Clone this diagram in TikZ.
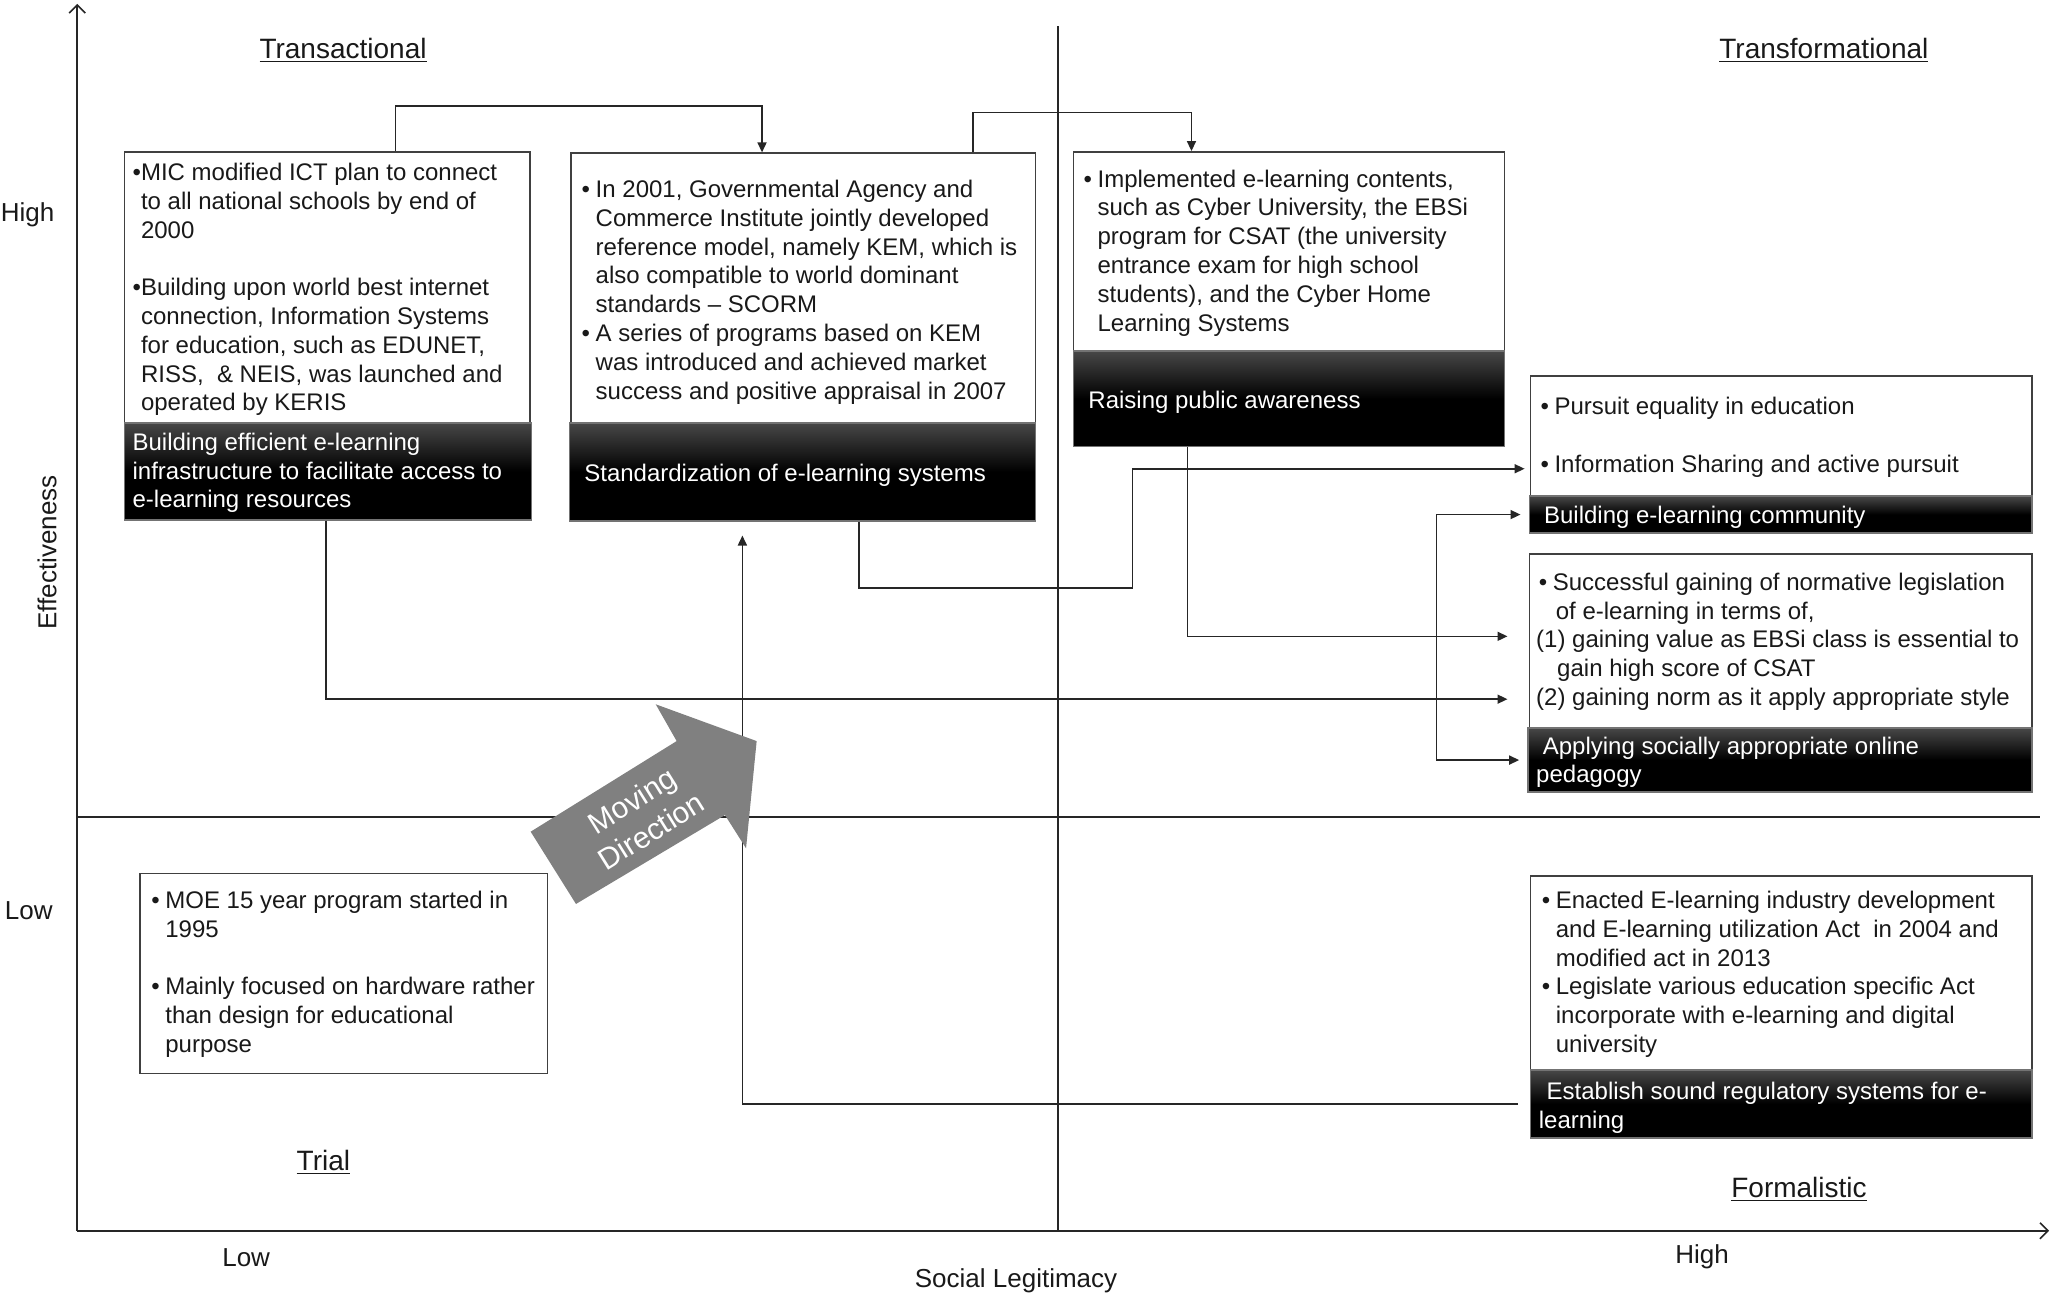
\documentclass[tikz,border=0pt]{standalone}
\usepackage{fontspec}
\setmainfont{Liberation Sans}
\usetikzlibrary{arrows.meta,fit}
\newcommand{\bi}{\makebox[7pt][l]{•}}
\newcommand{\hi}{\hspace*{7pt}}
\newcommand{\fst}{\rule{0pt}{10pt}}
\begin{document}
\begin{tikzpicture}[x=0.6547pt,y=-0.6547pt,
  wbox/.style={draw=black!75, fill=white, line width=0.8pt, inner sep=0pt},
  kbox/.style={draw=black!55, line width=0.8pt, inner sep=0pt, top color=black!72, bottom color=black, middle color=black},
  txt/.style={anchor=north west, inner sep=0pt, align=left, font=\fontsize{12}{14.4}\selectfont, text=black!90},
  wtxt/.style={txt, text=white},
  axlab/.style={inner sep=0pt, anchor=base, font=\fontsize{13}{15}\selectfont, text=black!90},
  quad/.style={inner sep=0pt, anchor=base, font=\fontsize{14}{16}\selectfont, text=black!90},
  conn/.style={draw=black!85, line width=0.8pt, -{Triangle[length=5pt,width=4.5pt]}},
  axisline/.style={draw=black!85, line width=0.8pt, -{Straight Barb[length=4pt,width=8pt]}},
  midline/.style={draw=black!85, line width=0.8pt}
]
\useasboundingbox (0,0) rectangle (1568,989.07);

% axes and quadrant lines
\draw[axisline] (59,940) -- (59,3);
\draw[axisline] (59,940) -- (1565,940);
\draw[midline] (808,20) -- (808,940);
\draw[midline] (59,624) -- (1558,624);

% quadrant titles
\node[quad] (qtl) at (262,44.6) {\underline{Transactional}};
\node[quad] (qtr) at (1393,44.6) {\underline{Transformational}};
\node[quad] (qbl) at (247,893.6) {\underline{Trial}};
\node[quad] (qbr) at (1374,914.6) {\underline{Formalistic}};

% axis labels
\node[axlab] (yh) at (21,169) {High};
\node[axlab] (yl) at (22,702) {Low};
\node[axlab] (xl) at (188,967) {Low};
\node[axlab] (xh) at (1300,965) {High};
\node[axlab] (xt) at (776,983) {Social Legitimacy};
\node[inner sep=0pt, font=\fontsize{13}{15}\selectfont, text=black!90, rotate=90] (yt) at (36,422) {Effectiveness};

% boxes
\node[wbox, fit={(95,116) (405,323)}] (w1) {};
\node[kbox, fit={(95,323) (406,397)}] (k1) {};
\node[wbox, fit={(436,117) (791,323)}] (w2) {};
\node[kbox, fit={(435,323) (791,398)}] (k2) {};
\node[wbox, fit={(820,116) (1149,268)}] (w3) {};
\node[kbox, fit={(820,268) (1149,341)}] (k3) {};
\node[wbox, fit={(1169,287) (1552,379)}] (w4) {};
\node[kbox, fit={(1168,379) (1552,407)}] (k4) {};
\node[wbox, fit={(1168,423) (1552,556)}] (w5) {};
\node[kbox, fit={(1167,556) (1552,605)}] (k5) {};
\node[wbox, fit={(107,667) (418,820)}] (w6) {};
\node[wbox, fit={(1169,669) (1552,817)}] (w7) {};
\node[kbox, fit={(1169,817) (1552,869)}] (k7) {};

% texts
\node[txt] (t1) at (101,122.3) {\fst•MIC modified ICT plan to connect\\
\phantom{•}to all national schools by end of\\
\phantom{•}2000\\[14.4pt]
•Building upon world best internet\\
\phantom{•}connection, Information Systems\\
\phantom{•}for education, such as EDUNET,\\
\phantom{•}RISS, \ \& NEIS, was launched and\\
\phantom{•}operated by KERIS};
\node[wtxt] (l1) at (101,328.3) {\fst Building efficient e-learning\\
infrastructure to facilitate access to\\
e-learning resources};

\node[txt] (t2) at (444,135.3) {\fst\bi In 2001, Governmental Agency and\\
\hi Commerce Institute jointly developed\\
\hi reference model, namely KEM, which is\\
\hi also compatible to world dominant\\
\hi standards – SCORM\\
\bi A series of programs based on KEM\\
\hi was introduced and achieved market\\
\hi success and positive appraisal in 2007};
\node[wtxt] (l2) at (446,352.3) {\fst Standardization of e-learning systems};

\node[txt] (t3) at (827.3,127.3) {\fst\bi Implemented e-learning contents,\\
\hi such as Cyber University, the EBSi\\
\hi program for CSAT (the university\\
\hi entrance exam for high school\\
\hi students), and the Cyber Home\\
\hi Learning Systems};
\node[wtxt] (l3) at (831,296.3) {\fst Raising public awareness};

\node[txt] (t4) at (1176.3,301.3) {\fst\bi Pursuit equality in education\\[14.4pt]
\bi Information Sharing and active pursuit};
\node[wtxt] (l4) at (1179,384.3) {\fst Building e-learning community};

\node[txt] (t5) at (1173,435.3) {\fst\hspace*{1.3pt}\bi Successful gaining of normative legislation\\
\hspace*{9.8pt}of e-learning in terms of,\\
(1) gaining value as EBSi class is essential to\\
\hspace*{10.5pt}gain high score of CSAT\\
(2) gaining norm as it apply appropriate style};
\node[wtxt] (l5) at (1173,560.3) {\fst\hspace*{3.3pt}Applying socially appropriate online\\
pedagogy};

\node[txt] (t6) at (115.3,678.3) {\fst\bi MOE 15 year program started in\\
\hi 1995\\[14.4pt]
\bi Mainly focused on hardware rather\\
\hi than design for educational\\
\hi purpose};

\node[txt] (t7) at (1177.3,678.3) {\fst\bi Enacted E-learning industry development\\
\hi and E-learning utilization Act \ in 2004 and\\
\hi modified act in 2013\\
\bi Legislate various education specific Act\\
\hi incorporate with e-learning and digital\\
\hi university};
\node[wtxt] (l7) at (1175,824.3) {\fst\hspace*{3.9pt}Establish sound regulatory systems for e-\\
learning};

% connectors
\draw[conn] (302,0 |- w1.north) -- (302,81) -| (582,0 |- w2.north);
\draw[conn] (743,0 |- w2.north) -- (743,86) -| (910,0 |- w3.north);
\draw[conn, shorten >=10.5pt] (249,0 |- k1.south) |- (w5.west |- 0,534);
\draw[conn, shorten >=2.6pt] (656,0 |- k2.south) |- (865,449) |- (w4.west |- 0,358);
\draw[conn, shorten >=10.5pt] (907,0 |- k3.south) |- (w5.west |- 0,486);
\draw[conn, shorten <=5.9pt, shorten >=6.8pt] (k7.west) -| (567,0 |- k2.south);
\draw[draw=black!85, line width=0.8pt, {Triangle[length=5pt,width=4.5pt]}-{Triangle[length=5pt,width=4.5pt]}, shorten <=4pt, shorten >=4pt]
  (k4.west) -| (1097,490) |- (k5.west);

% moving direction arrow
\fill[black!50] (405.3,635.2) -- (516.8,566.0) -- (500.8,537.9) -- (577.9,566.0)
  -- (569.8,647.9) -- (553.7,622.5) -- (439.9,690.4) -- cycle;
\node[inner sep=0pt, align=center, rotate=32, text=white, font=\fontsize{15}{18}\selectfont] (mv) at (490,623) {Moving\\Direction};
\end{tikzpicture}
\end{document}
